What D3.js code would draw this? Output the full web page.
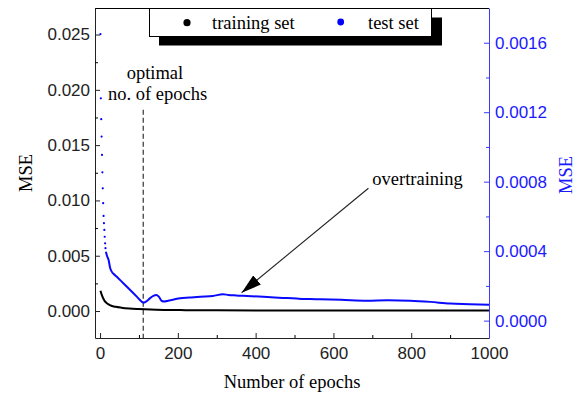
<!DOCTYPE html>
<meta charset="utf-8">
<style>
    body { margin: 0; background: #fff; }
    .tick text { font-family: "Liberation Sans", Arial, sans-serif; font-size: 17px; }
    .serif { font-family: "Liberation Serif", "Times New Roman", serif; }
</style>
<body>
<script src="https://cdn.jsdelivr.net/npm/d3@7/dist/d3.min.js"></script>
<script>

// training set (left axis)
var trainEpochs = [1, 4, 8, 12, 16, 22, 29, 40, 55, 75, 98, 130, 166, 220, 300, 400, 500, 600, 700, 800, 900, 1000];
var trainMSE = [0.00184, 0.0015, 0.00115, 0.0009, 0.00075, 0.0006, 0.00048, 0.00038, 0.0003, 0.00023, 0.00018,
                0.00013, 0.0001, 0.00008, 0.00006, 0.00005, 0.00005, 0.00004, 0.00004, 0.00004, 0.00004, 0.00004];

// test set (right axis) - first epochs are far apart, drawn as dots
var testEarlyEpochs = [1, 2, 3, 4, 5, 6, 7, 8, 9, 10, 11, 12, 13, 14];
var testEarlyMSE = [0.00165, 0.00128, 0.00116, 0.00106, 0.000954, 0.000854, 0.000762, 0.000676, 0.000603,
                    0.000561, 0.000522, 0.000483, 0.000445, 0.000417];
var testEpochs = [15, 18, 22, 26, 30, 38, 45, 55, 69, 80, 95, 107, 112, 118, 128, 137, 145, 152, 159, 165, 175,
                  190, 206, 230, 257, 290, 316, 330, 350, 378, 420, 470, 506, 540, 566, 620, 686, 740, 797, 850,
                  900, 950, 1000];
var testMSE = [0.000397, 0.000372, 0.000349, 0.000303, 0.000282, 0.000263, 0.000248, 0.000226, 0.000195, 0.000171,
               0.000137, 0.000109, 0.000104, 0.000110, 0.000128, 0.000143, 0.000148, 0.000135, 0.000113, 0.000110,
               0.000115, 0.000122, 0.000129, 0.000133, 0.000138, 0.000142, 0.000152, 0.000148, 0.000145, 0.000142,
               0.000137, 0.000131, 0.000127, 0.000124, 0.000123, 0.000120, 0.000115, 0.000117, 0.000115, 0.000108,
               0.000098, 0.000095, 0.000092];

var xTicks = [0, 200, 400, 600, 800, 1000];
var xMinor = [100, 300, 500, 700, 900];
var leftTicks = [0, 0.005, 0.01, 0.015, 0.02, 0.025];
var leftMinor = [0.0025, 0.0075, 0.0125, 0.0175, 0.0225];
var rightTicks = [0, 0.0004, 0.0008, 0.0012, 0.0016];
var rightMinor = [0.0002, 0.0006, 0.001, 0.0014];

var optimalEpoch = 111;

var margin = {top: 8, right: 88, bottom: 58, left: 95},
    width = 577 - margin.left - margin.right,
    height = 396 - margin.top - margin.bottom;

var svg = d3.select("body").append("svg")
    .attr("width", 577)
    .attr("height", 396)
  .append("g")
    .attr("transform", "translate(" + margin.left + "," + margin.top + ")");

var x = d3.scaleLinear().domain([-13, 1000]).range([0, width]);
var yL = d3.scaleLinear().domain([-0.00244, 0.0274]).range([height, 0]);
var yR = d3.scaleLinear().domain([-0.0001, 0.0018]).range([height, 0]);

// top frame line
svg.append("line")
    .attr("x1", 0).attr("x2", width)
    .attr("y1", 0.5).attr("y2", 0.5)
    .attr("stroke", "#000");

// axes (ticks point inward)
var gx = svg.append("g").attr("transform", "translate(0," + height + ")")
    .call(d3.axisBottom(x).tickValues(xTicks).tickSize(-5).tickSizeOuter(0).tickPadding(6)
        .tickFormat(d3.format("d")));
svg.append("g").attr("transform", "translate(0," + height + ")")
    .call(d3.axisBottom(x).tickValues(xMinor).tickSize(-3).tickFormat("")).select(".domain").remove();

var gl = svg.append("g")
    .call(d3.axisLeft(yL).tickValues(leftTicks).tickSize(-5).tickSizeOuter(0).tickPadding(5)
        .tickFormat(d3.format(".3f")));
svg.append("g")
    .call(d3.axisLeft(yL).tickValues(leftMinor).tickSize(-3).tickFormat("")).select(".domain").remove();

var gr = svg.append("g").attr("transform", "translate(" + width + ",0)")
    .call(d3.axisRight(yR).tickValues(rightTicks).tickSize(-5).tickSizeOuter(0).tickPadding(6)
        .tickFormat(d3.format(".4f")));
svg.append("g").attr("transform", "translate(" + width + ",0)")
    .call(d3.axisRight(yR).tickValues(rightMinor).tickSize(-3).tickFormat(""))
    .attr("color", "#3a3aff").select(".domain").remove();

gx.attr("color", "#222");
gl.attr("color", "#222");
gr.attr("color", "#3a3aff");
gr.selectAll(".tick text").attr("fill", "#1a1aff");
gx.selectAll(".tick text").attr("dy", "0.9em");

// optimal epoch dashed line
svg.append("line")
    .attr("x1", x(optimalEpoch)).attr("x2", x(optimalEpoch))
    .attr("y1", yL(0.0182)).attr("y2", height)
    .attr("stroke", "#333")
    .attr("stroke-width", 1.2)
    .attr("stroke-dasharray", "5,3");

// training line
var trainData = trainEpochs.map(function(e, i) { return [e, trainMSE[i]]; });
svg.append("path")
    .datum(trainData)
    .attr("fill", "none")
    .attr("stroke", "#000")
    .attr("stroke-width", 2)
    .attr("d", d3.line().curve(d3.curveMonotoneX)
        .x(function(d) { return x(d[0]); })
        .y(function(d) { return yL(d[1]); }));

// test set
var testData = testEpochs.map(function(e, i) { return [e, testMSE[i]]; });
svg.append("path")
    .datum(testData)
    .attr("fill", "none")
    .attr("stroke", "#0a0aff")
    .attr("stroke-width", 2)
    .attr("d", d3.line().curve(d3.curveMonotoneX)
        .x(function(d) { return x(d[0]); })
        .y(function(d) { return yR(d[1]); }));

svg.selectAll(".early")
    .data(testEarlyEpochs)
  .enter().append("circle")
    .attr("class", "early")
    .attr("cx", function(d) { return x(d); })
    .attr("cy", function(d, i) { return yR(testEarlyMSE[i]); })
    .attr("r", 1.1)
    .attr("fill", "#0000ff");

// annotations
svg.append("text").attr("class", "serif")
    .attr("x", x(141)).attr("y", yL(0.0210))
    .attr("text-anchor", "middle").attr("font-size", 18.5)
    .text("optimal");
svg.append("text").attr("class", "serif")
    .attr("x", x(148)).attr("y", yL(0.01907))
    .attr("text-anchor", "middle").attr("font-size", 18.5)
    .text("no. of epochs");

svg.append("text").attr("class", "serif")
    .attr("x", x(700)).attr("y", yR(0.00078))
    .attr("font-size", 18.5)
    .text("overtraining");

svg.append("defs").append("marker")
    .attr("id", "arrow")
    .attr("viewBox", "0 0 20 12")
    .attr("refX", 20).attr("refY", 6)
    .attr("markerWidth", 20).attr("markerHeight", 12)
    .attr("markerUnits", "userSpaceOnUse")
    .attr("orient", "auto")
  .append("path")
    .attr("d", "M0,0L20,6L0,12Z")
    .attr("fill", "#000");

svg.append("line")
    .attr("x1", x(690)).attr("y1", yR(0.000762))
    .attr("x2", x(364)).attr("y2", yR(0.000161))
    .attr("stroke", "#222")
    .attr("stroke-width", 1.1)
    .attr("marker-end", "url(#arrow)");

// legend with drop shadow
var legend = svg.append("g").attr("transform", "translate(54,0)");
legend.append("rect")
    .attr("x", 10).attr("y", 9.5)
    .attr("width", 283).attr("height", 28)
    .attr("fill", "#000");
legend.append("rect")
    .attr("x", 0.5).attr("y", 0.5)
    .attr("width", 282).attr("height", 28)
    .attr("fill", "#fff").attr("stroke", "#000");
legend.append("circle").attr("cx", 38).attr("cy", 14.7).attr("r", 3.6).attr("fill", "#000");
legend.append("text").attr("class", "serif")
    .attr("x", 63).attr("y", 21).attr("font-size", 18.5)
    .text("training set");
legend.append("circle").attr("cx", 191.7).attr("cy", 14).attr("r", 3.4).attr("fill", "#0000ff");
legend.append("text").attr("class", "serif")
    .attr("x", 219).attr("y", 21).attr("font-size", 18.5)
    .text("test set");

// axis titles
svg.append("text").attr("class", "serif")
    .attr("transform", "translate(" + (-63) + "," + (height / 2) + ") rotate(-90)")
    .attr("text-anchor", "middle").attr("font-size", 18.5)
    .text("MSE");
svg.append("text").attr("class", "serif")
    .attr("transform", "translate(" + (width + 83) + "," + (height / 2 + 2) + ") rotate(-90)")
    .attr("text-anchor", "middle").attr("font-size", 18.5)
    .attr("fill", "#1a1aff")
    .text("MSE");
svg.append("text").attr("class", "serif")
    .attr("x", width / 2).attr("y", height + 50)
    .attr("text-anchor", "middle").attr("font-size", 18.5)
    .text("Number of epochs");

</script>
</body>
